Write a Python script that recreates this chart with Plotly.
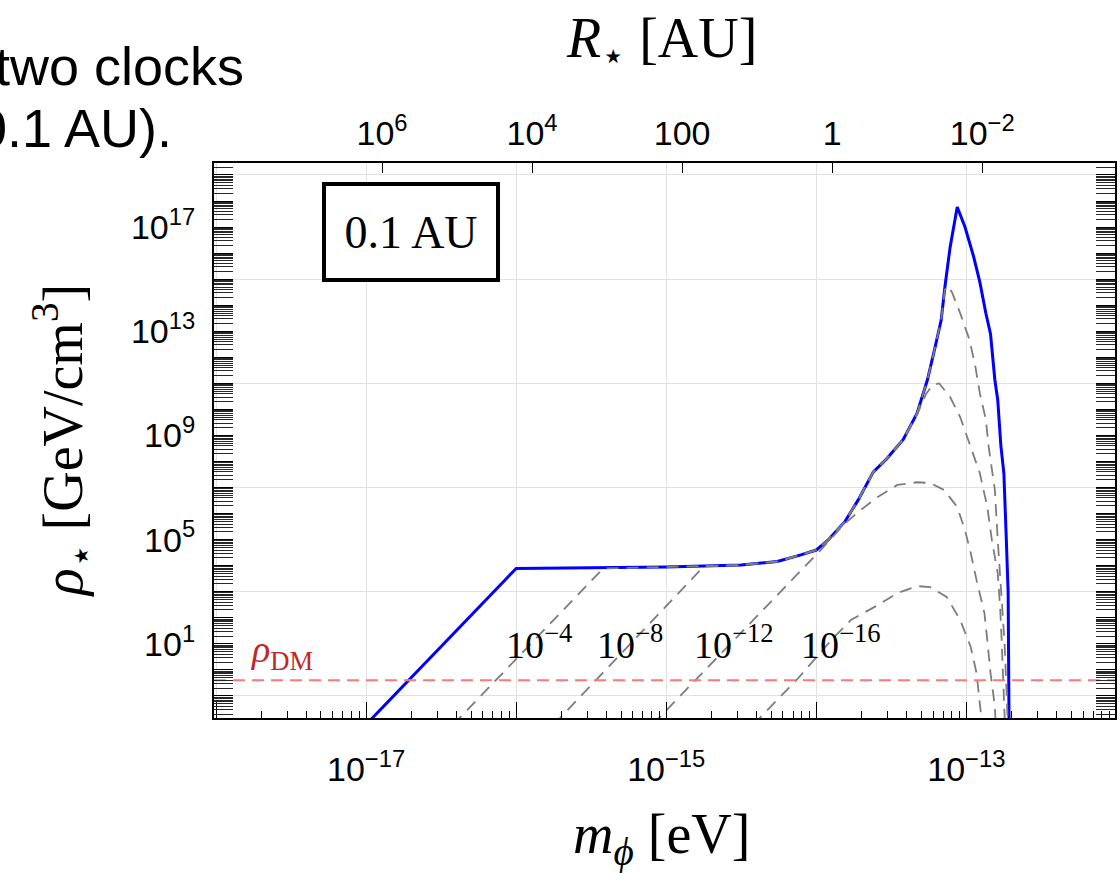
import plotly.graph_objects as go

# ---------------- data ----------------
# envelope (solid blue): scalar mass m_phi [eV] vs rho_star [GeV/cm^3]
m_env = [8.9e-18, 1.0e-16, 3.16e-16, 1.0e-15, 3.16e-15, 5.5e-15, 7.9e-15, 1.0e-14,
         1.2e-14, 1.55e-14, 1.9e-14, 2.4e-14, 2.9e-14, 3.8e-14, 4.7e-14, 5.5e-14,
         6.2e-14, 6.8e-14, 7.2e-14, 7.8e-14, 8.7e-14, 9.8e-14, 1.12e-13, 1.23e-13,
         1.35e-13, 1.45e-13, 1.55e-13, 1.62e-13, 1.7e-13, 1.78e-13, 1.84e-13, 1.9e-13,
         1.93e-13]
rho_env = [4.0e-3, 7.9e3, 8.3e3, 8.9e3, 1.07e4, 1.45e4, 2.6e4, 4.0e4,
           9.8e4, 4.9e5, 3.3e6, 4.0e7, 1.15e8, 7.1e8, 7.2e9, 1.35e11,
           2.5e12, 2.7e13, 5.0e14, 1.7e16, 5.9e17, 1.0e17, 7.2e15, 7.9e14,
           4.9e13, 7.9e12, 1.35e11, 2.3e10, 4.0e8, 3.5e7, 2.0e5, 1.0e3,
           3.2e-3]

# dashed curves, one per coupling
m_c4 = [3.8e-17, 3.8e-16, 1.0e-15, 3.16e-15, 5.5e-15, 7.9e-15, 1.0e-14, 1.2e-14,
        1.55e-14, 1.9e-14, 2.4e-14, 2.9e-14, 3.8e-14, 4.7e-14, 5.5e-14, 6.2e-14,
        6.8e-14, 7.2e-14, 7.6e-14, 8.1e-14, 9.1e-14, 1.05e-13, 1.15e-13, 1.23e-13,
        1.35e-13, 1.41e-13, 1.55e-13, 1.62e-13, 1.7e-13, 1.8e-13, 1.86e-13, 1.9e-13]
rho_c4 = [7.9e-3, 7.9e3, 8.9e3, 1.07e4, 1.45e4, 2.6e4, 4.0e4, 9.8e4,
          4.9e5, 3.3e6, 4.0e7, 1.15e8, 7.1e8, 7.2e9, 1.35e11, 2.5e12,
          2.7e13, 4.0e14, 5.6e14, 2.8e14, 5.0e13, 4.7e12, 4.3e11, 4.3e10,
          4.0e9, 3.6e8, 8.1e6, 9.8e4, 1.2e3, 10.0, 0.1, 3.2e-3]

m_c8 = [1.78e-16, 1.78e-15, 3.16e-15, 5.5e-15, 7.9e-15, 1.0e-14, 1.2e-14, 1.55e-14,
        1.9e-14, 2.4e-14, 2.9e-14, 3.8e-14, 4.7e-14, 5.4e-14, 6.0e-14, 6.6e-14,
        7.8e-14, 9.1e-14, 1.07e-13, 1.23e-13, 1.38e-13, 1.48e-13, 1.62e-13, 1.68e-13,
        1.72e-13, 1.76e-13, 1.8e-13, 1.82e-13]
rho_c8 = [7.9e-3, 9.5e3, 1.07e4, 1.45e4, 2.6e4, 4.0e4, 9.8e4, 4.9e5,
          3.3e6, 4.0e7, 1.15e8, 7.1e8, 6.3e9, 4.0e10, 8.9e10, 1.0e11,
          3.0e10, 5.1e9, 3.6e8, 3.6e7, 1.8e6, 9.8e4, 5.2e3, 2.6e2,
          14.0, 0.76, 0.038, 3.2e-3]

m_c12 = [8.1e-16, 8.9e-15, 1.07e-14, 1.51e-14, 1.9e-14, 2.57e-14, 3.47e-14, 4.7e-14,
         5.75e-14, 7.1e-14, 8.7e-14, 9.8e-14, 1.07e-13, 1.17e-13, 1.32e-13, 1.38e-13,
         1.45e-13, 1.55e-13, 1.58e-13]
rho_c12 = [7.9e-3, 1.45e4, 4.0e4, 3.6e5, 1.15e6, 4.4e6, 1.26e7, 1.6e7,
           1.5e7, 8.1e6, 1.8e6, 2.3e5, 3.1e4, 2.8e3, 155.0, 14.0,
           0.76, 0.04, 3.2e-3]

m_c16 = [3.8e-15, 7.6e-15, 1.26e-14, 1.7e-14, 2.45e-14, 3.47e-14, 4.7e-14, 5.75e-14,
         7.4e-14, 9.1e-14, 1.07e-13, 1.17e-13, 1.26e-13, 1.29e-13]
rho_c16 = [7.9e-3, 0.49, 14.0, 83.0, 263.0, 890.0, 1.66e3, 1.5e3,
           630.0, 83.0, 7.6, 0.76, 0.0145, 3.2e-3]

coupling_labels = ["10<sup>\u22124</sup>", "10<sup>\u22128</sup>",
                   "10<sup>\u221212</sup>", "10<sup>\u221216</sup>"]
rho_dm = 0.4  # GeV/cm^3

# axes
x_range_log = [-18.014, -12.009]
y_range_log = [-1.845, 19.46]
x_major_exp = [-18, -17, -16, -15, -14, -13, -12]
x_labelled_exp = [-17, -15, -13]
y_major_exp = list(range(-1, 20))
y_labelled_exp = [1, 5, 9, 13, 17]
y_grid_exp = [-1, 3, 7, 11, 15, 19]
# top axis: R_star [AU]; R = 1e6 AU at log10(m) = -16.894, R ~ m^-2
r_ticks_log = [6, 4, 2, 0, -2]
r_tick_text = ["10<sup>6</sup>", "10<sup>4</sup>", "100", "1", "10<sup>\u22122</sup>"]
R_REF_LOG_M = -16.894
R_REF_LOG_R = 6

# ---------------- style ----------------
SANS = "Liberation Sans, Arial, sans-serif"
SERIF = "Liberation Serif, Times New Roman, serif"
W, H = 1120, 873
L, R, T, B = 214, 3, 163, 155
PW, PH = W - L - R, H - T - B


def px(xp):
    return (xp - L) / PW


def py(yp):
    return (H - B - yp) / PH


fig = go.Figure()

fig.add_trace(go.Scatter(x=m_env, y=rho_env, mode="lines",
                         line=dict(color="rgb(0,0,255)", width=3),
                         hoverinfo="skip", showlegend=False))
for mm, rr in [(m_c4, rho_c4), (m_c8, rho_c8), (m_c12, rho_c12), (m_c16, rho_c16)]:
    fig.add_trace(go.Scatter(x=mm, y=rr, mode="lines",
                             line=dict(color="rgb(125,125,125)", width=1.8, dash="12px,8px"),
                             hoverinfo="skip", showlegend=False))
fig.add_trace(go.Scatter(x=[10 ** x_range_log[0], 10 ** x_range_log[1]], y=[rho_dm, rho_dm],
                         mode="lines",
                         line=dict(color="rgb(255,120,120)", width=2, dash="12px,7px"),
                         hoverinfo="skip", showlegend=False))
# empty traces to instantiate the overlay axes
fig.add_trace(go.Scatter(x=[], y=[], xaxis="x", yaxis="y2", showlegend=False, hoverinfo="skip"))
fig.add_trace(go.Scatter(x=[], y=[], xaxis="x2", yaxis="y", showlegend=False, hoverinfo="skip"))

x_minor = [j * 10.0 ** k for k in range(-19, -11) for j in range(2, 10)]
y_minor = [j * 10.0 ** k for k in range(-2, 20) for j in range(2, 10)]

fig.update_layout(
    width=W, height=H,
    margin=dict(l=L, r=R, t=T, b=B),
    paper_bgcolor="white", plot_bgcolor="white",
    showlegend=False,
    xaxis=dict(
        type="log", range=x_range_log,
        tickmode="array",
        tickvals=[10.0 ** e for e in x_major_exp],
        ticktext=["10<sup>\u2212%d</sup>" % (-e) if e in x_labelled_exp else " " for e in x_major_exp],
        ticks="inside", ticklen=16, tickwidth=1.2, tickcolor="black",
        minor=dict(tickmode="array", tickvals=x_minor, ticks="inside", ticklen=7,
                   tickwidth=1, tickcolor="black", showgrid=False),
        showgrid=True, gridcolor="rgb(225,225,225)", gridwidth=1,
        showline=True, linecolor="black", linewidth=2, mirror=True,
        zeroline=False,
        tickfont=dict(family=SANS, size=34, color="black"),
        ticklabelstandoff=20,
    ),
    xaxis2=dict(
        overlaying="x", side="top", anchor="y", type="linear", range=x_range_log,
        tickmode="array",
        tickvals=[R_REF_LOG_M - (r - R_REF_LOG_R) / 2.0 for r in r_ticks_log],
        ticktext=r_tick_text,
        ticks="inside", ticklen=10, tickwidth=1.2, tickcolor="black",
        showgrid=False, showline=False, zeroline=False,
        tickfont=dict(family=SANS, size=34, color="black"),
        ticklabelstandoff=10,
    ),
    yaxis=dict(
        type="log", range=y_range_log,
        tickmode="array",
        tickvals=[10.0 ** e for e in y_major_exp],
        ticktext=["10<sup>%d</sup>" % e if e in y_labelled_exp else " " for e in y_major_exp],
        ticks="inside", ticklen=19, tickwidth=1.2, tickcolor="black",
        minor=dict(tickmode="array", tickvals=y_minor, ticks="inside", ticklen=7,
                   tickwidth=0.8, tickcolor="rgb(40,40,40)", showgrid=False),
        showgrid=False,
        showline=True, linecolor="black", linewidth=2, mirror="allticks",
        zeroline=False,
        tickfont=dict(family=SANS, size=34, color="black"),
        ticklabelstandoff=10,
    ),
    yaxis2=dict(
        overlaying="y", side="left", anchor="x", type="log", range=y_range_log,
        tickmode="array", tickvals=[10.0 ** e for e in y_grid_exp],
        showticklabels=False, ticks="",
        showgrid=True, gridcolor="rgb(225,225,225)", gridwidth=1,
        showline=False, zeroline=False,
    ),
)

ann = []


def add_text(text, xp, yp, font, xanchor="center", **kw):
    ann.append(dict(text=text, x=px(xp), y=py(yp), xref="paper", yref="paper",
                    xanchor=xanchor, yanchor="middle", showarrow=False, font=font, **kw))


# axis titles
add_text("<i>R</i><sub>\u22c6</sub> [AU]", 662, 42, dict(family=SERIF, size=56, color="black"))
add_text("<i>m</i><sub><i>\u03d5</i></sub> [eV]", 662, 838, dict(family=SERIF, size=56, color="black"))
add_text("<i>\u03c1</i><sub>\u22c6</sub> [GeV/cm<sup>3</sup>]", 62, 440,
         dict(family=SERIF, size=56, color="black"), textangle=-90)
# inset box
add_text("0.1\u2009AU", 411, 232, dict(family=SERIF, size=46, color="black"),
         width=170, height=92, borderpad=0, bordercolor="black", borderwidth=4, bgcolor="white")
# rho_DM label
add_text("<i>\u03c1</i><sub>DM</sub>", 249, 652, dict(family=SERIF, size=38, color="rgb(190,40,40)"),
         xanchor="left")
# coupling labels
label_left_px = [505, 596, 693, 800]
for t, xl in zip(coupling_labels, label_left_px):
    add_text(t, xl, 642, dict(family=SERIF, size=38, color="black"), xanchor="left")
# slide text fragments at top-left
add_text("two clocks", 246, 66, dict(family=SANS, size=54, color="black"), xanchor="right")
add_text("(0.1 AU).", 174, 128, dict(family=SANS, size=54, color="black"), xanchor="right")
fig.update_layout(annotations=ann)

fig.write_html("out.html")
